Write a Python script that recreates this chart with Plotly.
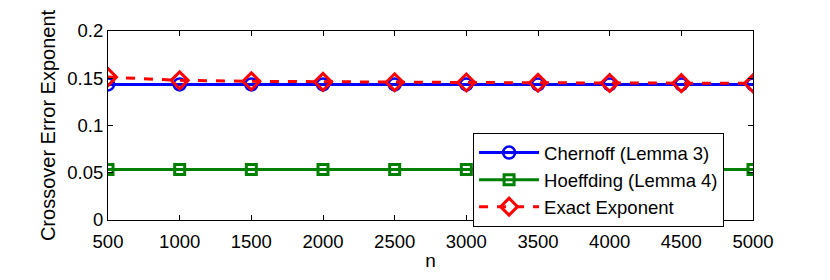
import plotly.graph_objects as go

n = [500, 1000, 1500, 2000, 2500, 3000, 3500, 4000, 4500, 5000]
chernoff = [0.1435, 0.1435, 0.1435, 0.1435, 0.1435, 0.1435, 0.1435, 0.1435, 0.1435, 0.1435]
hoeffding = [0.0535, 0.0535, 0.0535, 0.0535, 0.0535, 0.0535, 0.0535, 0.0535, 0.0535, 0.0535]
exact = [0.1512, 0.1478, 0.1468, 0.1462, 0.1458, 0.1455, 0.1452, 0.1450, 0.1448, 0.1446]

yticks = [0, 0.05, 0.1, 0.15, 0.2]
ytext = ["0", "0.05", "0.1", "0.15", "0.2"]

fig = go.Figure()
fig.add_trace(go.Scatter(x=n, y=chernoff, mode="lines+markers", name="Chernoff (Lemma 3)",
                         line=dict(color="#0000ff", width=3),
                         marker=dict(symbol="circle-open", size=12, color="#0000ff", line=dict(width=2.5))))
fig.add_trace(go.Scatter(x=n, y=hoeffding, mode="lines+markers", name="Hoeffding (Lemma 4)",
                         line=dict(color="#008000", width=3),
                         marker=dict(symbol="square-open", size=10, color="#008000", line=dict(width=3))))
fig.add_trace(go.Scatter(x=n, y=exact, mode="lines+markers", name="Exact Exponent",
                         line=dict(color="#ff0000", width=3, dash="dash"),
                         marker=dict(symbol="diamond-open", size=13, color="#ff0000", line=dict(width=3))))

font = "Liberation Sans, Arial, Helvetica, sans-serif"
# the page body adds an 8px margin on the left and top
fig.update_layout(
    width=822, height=272,
    margin=dict(l=100, r=77, t=13, b=54),
    paper_bgcolor="white", plot_bgcolor="white",
    font=dict(family=font, size=19, color="black"),
    showlegend=True,
    legend=dict(x=0.566, y=0.46, xanchor="left", yanchor="top",
                bordercolor="black", borderwidth=1, bgcolor="white",
                font=dict(size=18.5, family=font), tracegroupgap=0,
                itemwidth=60),
    xaxis=dict(range=[500, 5000], tickvals=n, ticktext=[str(v) for v in n],
               showgrid=False, zeroline=False, showline=True, linecolor="black", linewidth=1,
               mirror="allticks", ticks="inside", ticklen=5, tickcolor="black",
               tickfont=dict(size=18.5), ticklabelstandoff=5,
               title=dict(text="n", standoff=2, font=dict(size=19))),
    yaxis=dict(range=[0, 0.2], tickvals=yticks, ticktext=ytext,
               showgrid=False, zeroline=False, showline=True, linecolor="black", linewidth=1,
               mirror="allticks", ticks="inside", ticklen=5, tickcolor="black",
               tickfont=dict(size=18.5),
               title=dict(text="Crossover Error Exponent", standoff=6, font=dict(size=20))),
)

fig.write_html("out.html")
